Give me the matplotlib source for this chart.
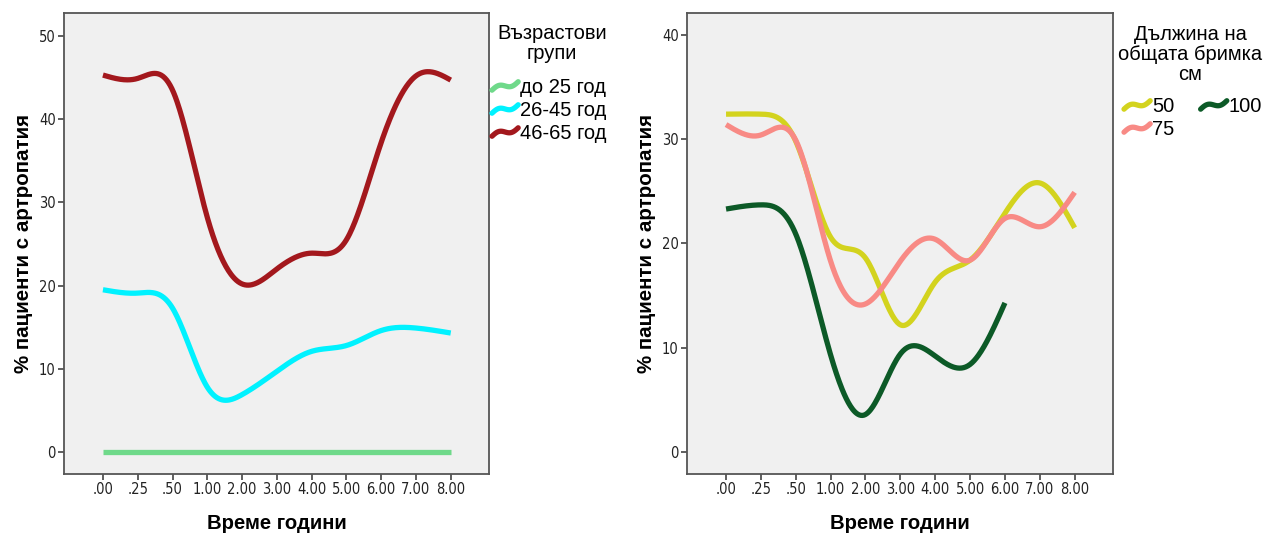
import numpy as np
import matplotlib
matplotlib.use("Agg")
import matplotlib.pyplot as plt
from matplotlib.legend_handler import HandlerBase
from matplotlib.lines import Line2D

# ---- data ----
time_labels = [".00", ".25", ".50", "1.00", "2.00", "3.00", "4.00", "5.00", "6.00", "7.00", "8.00"]

age_groups = ["до 25 год", "26-45 год", "46-65 год"]
age_upto25 = [0, 0, 0, 0, 0, 0, 0, 0, 0, 0, 0]
age_26_45 = [19.5, 19.1, 17.3, 7.8, 6.9, 9.7, 12.1, 12.8, 14.6, 14.9, 14.3]
age_46_65 = [45.3, 44.9, 43.5, 28.2, 20.2, 22.0, 23.9, 25.5, 37.2, 45.2, 44.7]

loop_groups = ["50", "75", "100"]
loop_50 = [32.4, 32.4, 29.8, 20.6, 18.6, 12.2, 16.3, 18.4, 22.9, 25.8, 21.5]
loop_75 = [31.4, 30.4, 29.9, 18.3, 14.2, 18.3, 20.4, 18.4, 22.4, 21.6, 24.9]
loop_100 = [23.3, 23.7, 20.9, 9.3, 3.6, 9.4, 9.2, 8.4, 14.3]

age_colors = ["#6fd98a", "#00f2ff", "#a3181d"]
loop_colors = ["#d3d31e", "#f88a85", "#0c5a27"]

ylabel = "% пациенти с артропатия"
xlabel = "Време години"
age_title = "Възрастови\nгрупи"
loop_title = "Дължина на\nобщата бримка\nсм"


def natural_spline(x, y, xq):
    x = np.asarray(x, float)
    y = np.asarray(y, float)
    n = len(x)
    h = np.diff(x)
    A = np.zeros((n, n))
    b = np.zeros(n)
    A[0, 0] = 1
    A[-1, -1] = 1
    for i in range(1, n - 1):
        A[i, i - 1] = h[i - 1]
        A[i, i] = 2 * (h[i - 1] + h[i])
        A[i, i + 1] = h[i]
        b[i] = 3 * ((y[i + 1] - y[i]) / h[i] - (y[i] - y[i - 1]) / h[i - 1])
    c = np.linalg.solve(A, b)
    out = np.empty_like(xq)
    for k, xv in enumerate(xq):
        i = min(max(np.searchsorted(x, xv) - 1, 0), n - 2)
        dx = xv - x[i]
        bi = (y[i + 1] - y[i]) / h[i] - h[i] * (2 * c[i] + c[i + 1]) / 3
        di = (c[i + 1] - c[i]) / (3 * h[i])
        out[k] = y[i] + bi * dx + c[i] * dx ** 2 + di * dx ** 3
    return out


class WavyHandler(HandlerBase):
    def create_artists(self, legend, orig_handle, xdescent, ydescent,
                       width, height, fontsize, trans):
        t = np.linspace(0, 1, 40)
        xs = -xdescent + t * width
        ys = -ydescent + height / 2 + height * 0.6 * ((t - 0.5) + 0.3 * np.sin(2 * np.pi * t))
        ln = Line2D(xs, ys, color=orig_handle.get_color(), lw=orig_handle.get_linewidth(),
                    solid_capstyle="round")
        ln.set_transform(trans)
        return [ln]


plt.rcParams["font.family"] = ["Liberation Sans", "DejaVu Sans"]

fig = plt.figure(figsize=(12.65, 5.34), dpi=100)
W, H = 1265, 534
ax1 = fig.add_axes([64 / W, 1 - 474 / H, (489 - 64) / W, (474 - 13) / H])
ax2 = fig.add_axes([687 / W, 1 - 474 / H, (1113 - 687) / W, (474 - 13) / H])

LW = 3.8


def style(ax, ylim, yticks):
    ax.set_facecolor("#f0f0f0")
    for s in ax.spines.values():
        s.set_color("#555555")
        s.set_linewidth(1.3)
    ax.set_xlim(-1.12, 11.1)
    ax.set_ylim(*ylim)
    ax.set_xticks(range(len(time_labels)))
    ax.set_xticklabels(time_labels)
    ax.set_yticks(yticks)
    ax.tick_params(length=4, width=1.1, color="#333333", labelsize=10.5, labelcolor="#222222", pad=2)
    for lab in ax.get_xticklabels() + ax.get_yticklabels():
        lab.set_family("DejaVu Sans")
        lab.set_stretch("condensed")
    ax.set_xlabel(xlabel, fontsize=14.6, fontweight="bold", labelpad=12)
    ax.set_ylabel(ylabel, fontsize=14.8, fontweight="bold", labelpad=4)


def draw(ax, series, names, colors):
    handles = []
    for vals, name, col in zip(series, names, colors):
        xi = np.arange(len(vals))
        xq = np.linspace(0, len(vals) - 1, 400)
        yq = natural_spline(xi, vals, xq)
        ln, = ax.plot(xq, yq, color=col, lw=LW, solid_capstyle="butt", label=name)
        handles.append(ln)
    return handles


h1 = draw(ax1, [age_upto25, age_26_45, age_46_65], age_groups, age_colors)
style(ax1, (-2.64, 52.76), [0, 10, 20, 30, 40, 50])

h2 = draw(ax2, [loop_50, loop_75, loop_100], loop_groups, loop_colors)
style(ax2, (-2.11, 42.1), [0, 10, 20, 30, 40])

FS = 14.5
fig.text(552 / W, 1 - 24 / H, age_title, ha="center", va="top", fontsize=FS, linespacing=1.05)
fig.legend(handles=h1, loc="upper left", bbox_to_anchor=(492 / W, 1 - 78 / H),
           frameon=False, fontsize=FS, handler_map={Line2D: WavyHandler()},
           handlelength=1.3, handletextpad=0.1, labelspacing=0.2, borderpad=0,
           borderaxespad=0)

fig.text(1190 / W, 1 - 25 / H, loop_title, ha="center", va="top", fontsize=FS, linespacing=1.05)
fig.legend(handles=h2, loc="upper left", ncol=2, bbox_to_anchor=(1124 / W, 1 - 97 / H),
           frameon=False, fontsize=FS, handler_map={Line2D: WavyHandler()},
           handlelength=1.3, handletextpad=0.1, labelspacing=0.2, borderpad=0,
           borderaxespad=0, columnspacing=1.3)

fig.savefig("out.png", dpi=100)
